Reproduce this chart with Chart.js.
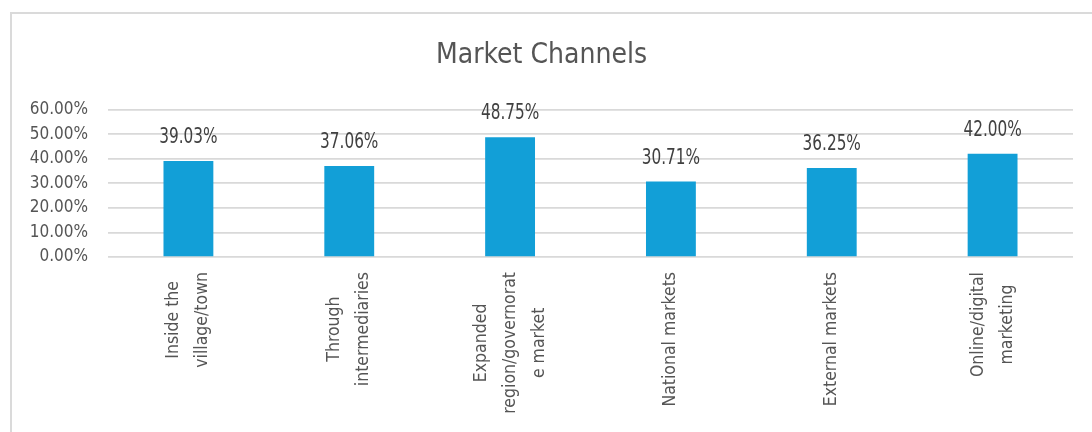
<!DOCTYPE html>
<html>
<head>
<meta charset="utf-8">
<title>Market Channels</title>
<script src="https://cdn.jsdelivr.net/npm/chart.js@4"></script>
<style>
  html, body { margin: 0; padding: 0; background: #fff; }
  #wrap { position: relative; width: 1092px; height: 432px; overflow: hidden; }
  #frame {
    position: absolute; left: 10px; top: 12px; width: 1200px; height: 600px;
    border-left: 2px solid #dadada; border-top: 2px solid #dadada;
  }
  canvas { position: absolute; left: 0; top: 0; }
</style>
</head>
<body>
<div id="wrap">
  <div id="frame"></div>
  <canvas id="market-chart" width="1092" height="432"></canvas>
</div>
<script>
// Channel names, one line per entry
var channels = [
  ['Inside the', 'village/town'],
  ['Through', 'intermediaries'],
  ['Expanded', 'region/governorat', 'e market'],
  ['National markets'],
  ['External markets'],
  ['Online/digital', 'marketing']
];

// Share of respondents per channel (%)
var shares = [39.03, 37.06, 48.75, 30.71, 36.25, 42.00];

// Y axis ticks (%)
var yTicks = [0, 10, 20, 30, 40, 50, 60];

var fontFamily = "'DejaVu Sans Condensed', 'Liberation Sans Narrow', sans-serif";
var textColor = '#555555';
var labelFontSize = 17.5;
var labelLineHeight = 29;

// Value labels above each bar (slightly stretched upright)
var valueLabels = {
  id: 'valueLabels',
  afterDatasetsDraw: function(chart) {
    var ctx = chart.ctx;
    var meta = chart.getDatasetMeta(0);
    ctx.save();
    ctx.font = '17px ' + fontFamily;
    ctx.fillStyle = '#404040';
    ctx.textAlign = 'center';
    ctx.textBaseline = 'alphabetic';
    meta.data.forEach(function(bar, i) {
      ctx.save();
      ctx.translate(bar.x, bar.y - 18);
      ctx.scale(1, 1.25);
      ctx.fillText(shares[i].toFixed(2) + '%', 0, 0);
      ctx.restore();
    });
    ctx.restore();
  }
};

// Rotated category names, lines centred on each other
var categoryLabels = {
  id: 'categoryLabels',
  afterDraw: function(chart) {
    var ctx = chart.ctx;
    var scale = chart.scales.x;
    ctx.save();
    ctx.font = labelFontSize + 'px ' + fontFamily;
    ctx.fillStyle = textColor;
    ctx.textAlign = 'center';
    ctx.textBaseline = 'middle';
    channels.forEach(function(lines, i) {
      var widest = Math.max.apply(null, lines.map(function(l) { return ctx.measureText(l).width; }));
      ctx.save();
      ctx.translate(scale.getPixelForTick(i), scale.top + 15);
      ctx.rotate(-Math.PI / 2);
      lines.forEach(function(line, j) {
        ctx.fillText(line, -widest / 2, (j - (lines.length - 1) / 2) * labelLineHeight);
      });
      ctx.restore();
    });
    ctx.restore();
  }
};

var chartConfig = {
  type: 'bar',
  data: {
    labels: channels,
    datasets: [{
      data: shares,
      backgroundColor: '#129fd7',
      barPercentage: 0.31,
      categoryPercentage: 1
    }]
  },
  options: {
    responsive: false,
    animation: false,
    layout: {
      padding: { left: 10, right: 19, top: 0, bottom: 0 }
    },
    plugins: {
      legend: { display: false },
      tooltip: { enabled: false },
      title: {
        display: true,
        text: 'Market Channels',
        color: textColor,
        font: { family: fontFamily, size: 28, weight: 'normal', lineHeight: 1.2 },
        padding: { top: 39, bottom: 37 }
      }
    },
    scales: {
      x: {
        afterFit: function(scale) { scale.height = 175; },
        grid: { display: false, drawTicks: false },
        border: { display: false },
        ticks: { display: false }
      },
      y: {
        min: yTicks[0],
        max: yTicks[yTicks.length - 1],
        afterFit: function(scale) { scale.width = 98; },
        afterBuildTicks: function(scale) {
          scale.ticks = yTicks.map(function(v) { return { value: v }; });
        },
        grid: { color: '#d9d9d9', lineWidth: 1.7, drawTicks: false },
        border: { display: false },
        ticks: {
          autoSkip: false,
          color: textColor,
          font: { family: fontFamily, size: 17 },
          padding: 20,
          callback: function(value) { return value.toFixed(2) + '%'; }
        }
      }
    }
  },
  plugins: [valueLabels, categoryLabels]
};

var marketChart = new Chart(document.getElementById('market-chart'), chartConfig);
</script>
</body>
</html>
